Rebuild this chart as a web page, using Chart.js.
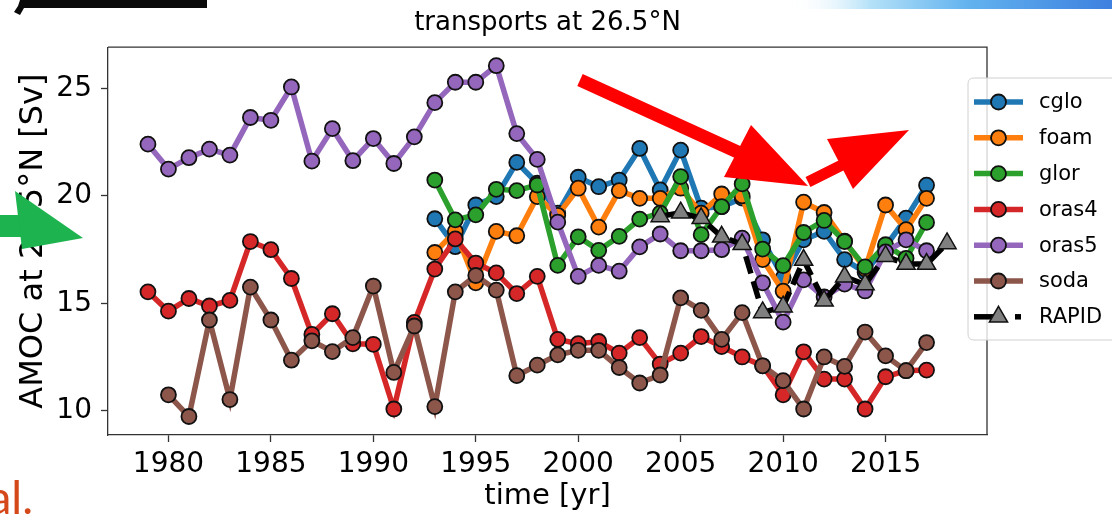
<!DOCTYPE html>
<html>
<head>
<meta charset="utf-8">
<script src="https://cdn.jsdelivr.net/npm/chart.js@4.4.1/dist/chart.umd.min.js"></script>
<style>
  html, body { margin: 0; padding: 0; background: #fff; overflow: hidden; }
  #wrap { position: relative; width: 1112px; height: 521px; }
</style>
</head>
<body>
<div id="wrap"><canvas id="c" width="1112" height="521"></canvas></div>
<script>
// Annual AMOC transports at 26.5°N [Sv], one value per year (null = no data)
const years = [1979, 1980, 1981, 1982, 1983, 1984, 1985, 1986, 1987, 1988,
               1989, 1990, 1991, 1992, 1993, 1994, 1995, 1996, 1997, 1998,
               1999, 2000, 2001, 2002, 2003, 2004, 2005, 2006, 2007, 2008,
               2009, 2010, 2011, 2012, 2013, 2014, 2015, 2016, 2017, 2018];

const cglo = [null, null, null, null, null, null, null, null, null, null,
              null, null, null, null, 18.94, 17.64, 19.58, 19.97, 21.56, 20.59,
              19.20, 20.87, 20.43, 20.74, 22.21, 20.28, 22.13, 19.43, 19.50, 19.90,
              17.96, 16.20, 17.96, 18.35, 17.04, 16.45, 17.65, 18.97, 20.50, null];

const foam = [null, null, null, null, null, null, null, null, null, null,
              null, null, null, null, 17.37, 18.35, 15.96, 18.35, 18.15, 19.97,
              19.10, 20.36, 18.55, 20.25, 19.89, 19.89, 20.36, 19.20, 20.09, 20.00,
              17.04, 15.57, 19.71, 19.23, 17.90, 16.60, 19.58, 18.43, 19.89, null];

const glor = [null, null, null, null, null, null, null, null, null, null,
              null, null, null, null, 20.74, 18.89, 19.12, 20.31, 20.25, 20.51,
              16.77, 18.10, 17.47, 18.12, 18.92, 19.20, 20.90, 18.20, 19.50, 20.56,
              17.53, 16.76, 18.30, 18.86, 17.88, 16.70, 17.73, 17.10, 18.77, null];

const oras4 = [15.54, 14.64, 15.23, 14.88, 15.14, 17.88, 17.50, 16.16, 13.56, 14.52,
               13.12, 13.10, 10.09, 14.12, 16.60, 18.00, 16.88, 16.42, 15.46, 16.26,
               13.33, 13.13, 13.23, 12.69, 13.41, 12.18, 12.69, 13.46, 12.99, 12.51,
               12.10, 10.75, 12.75, 11.48, 11.48, 10.09, 11.59, 11.87, 11.90, null];

const oras5 = [22.41, 21.25, 21.78, 22.18, 21.90, 23.65, 23.52, 25.07, 21.62, 23.13,
               21.64, 22.67, 21.51, 22.75, 24.34, 25.29, 25.29, 26.06, 22.90, 21.70,
               18.78, 16.26, 16.77, 16.50, 17.63, 18.23, 17.45, 17.45, 17.50, 18.04,
               15.96, 14.13, 16.10, 15.30, 15.90, 15.58, 17.40, 17.96, 17.45, null];

const soda = [null, 10.75, 9.74, 14.23, 10.53, 15.76, 14.23, 12.36, 13.26, 12.76,
              13.41, 15.81, 11.79, 13.95, 10.20, 15.54, 16.30, 15.62, 11.64, 12.13,
              12.61, 12.82, 12.82, 12.02, 11.30, 11.67, 15.26, 14.68, 13.33, 14.57,
              12.10, 11.41, 10.09, 12.51, 12.07, 13.67, 12.56, 11.87, 13.18, null];

const rapid = [null, null, null, null, null, null, null, null, null, null,
               null, null, null, null, null, null, null, null, null, null,
               null, null, null, null, null, 19.05, 19.22, 18.96, 18.10, 17.75,
               14.58, 14.85, 17.02, 15.12, 16.24, 15.88, 17.20, 16.83, 16.83, 17.79];

const xTicks = [1980, 1985, 1990, 1995, 2000, 2005, 2010, 2015];
const yTicks = [10, 15, 20, 25];

const seriesNames = ['cglo', 'foam', 'glor', 'oras4', 'oras5', 'soda'];
const seriesValues = [cglo, foam, glor, oras4, oras5, soda];
const seriesColors = ['#1f77b4', '#ff7f0e', '#2ca02c', '#d62728', '#9467bd', '#8c564b'];

const FONT = 'DejaVu Sans';

function toPoints(values) {
  const pts = [];
  years.forEach((yr, i) => { if (values[i] !== null) pts.push({ x: yr, y: values[i] }); });
  return pts;
}

const datasets = seriesNames.map((name, k) => ({
  label: name,
  data: toPoints(seriesValues[k]),
  borderColor: seriesColors[k],
  backgroundColor: seriesColors[k],
  borderWidth: 5.5,
  pointRadius: 7.5,
  pointBorderWidth: 1.8,
  pointBorderColor: '#111',
  pointBackgroundColor: seriesColors[k],
  pointStyle: 'circle',
  tension: 0,
  order: 10 - k
}));

datasets.push({
  label: 'RAPID',
  data: toPoints(rapid),
  borderColor: '#000',
  backgroundColor: '#808080',
  borderWidth: 5.5,
  borderDash: [18, 8],
  pointRadius: 10.5,
  pointBorderWidth: 1.5,
  pointBorderColor: '#111',
  pointBackgroundColor: '#808080',
  pointStyle: 'triangle',
  tension: 0,
  order: 1
});

// top/right spines
const framePlugin = {
  id: 'frame',
  afterDatasetsDraw(chart) {
    const { ctx, chartArea: a } = chart;
    ctx.save();
    ctx.strokeStyle = '#333';
    ctx.lineWidth = 1.3;
    ctx.beginPath();
    ctx.moveTo(a.left, a.top);
    ctx.lineTo(a.right, a.top);
    ctx.lineTo(a.right, a.bottom);
    ctx.stroke();
    ctx.restore();
  }
};

function roundRect(ctx, x, y, w, h, r) {
  ctx.beginPath();
  ctx.moveTo(x + r, y);
  ctx.lineTo(x + w - r, y);
  ctx.quadraticCurveTo(x + w, y, x + w, y + r);
  ctx.lineTo(x + w, y + h - r);
  ctx.quadraticCurveTo(x + w, y + h, x + w - r, y + h);
  ctx.lineTo(x + r, y + h);
  ctx.quadraticCurveTo(x, y + h, x, y + h - r);
  ctx.lineTo(x, y + r);
  ctx.quadraticCurveTo(x, y, x + r, y);
  ctx.closePath();
}

// framed legend at the right edge, built from the datasets
const legendPlugin = {
  id: 'boxLegend',
  afterDraw(chart) {
    const ctx = chart.ctx;
    const bx = 968, by = 78, bw = 152, bh = 262;
    ctx.save();
    roundRect(ctx, bx, by, bw, bh, 6);
    ctx.fillStyle = 'rgba(255,255,255,0.8)';
    ctx.fill();
    ctx.strokeStyle = '#d0d0d0';
    ctx.lineWidth = 1;
    ctx.stroke();

    const x1 = 974, x2 = 1023, xm = 998.5, xt = 1039;
    ctx.font = '21px "' + FONT + '"';
    ctx.textBaseline = 'middle';
    ctx.textAlign = 'left';
    chart.data.datasets.forEach((ds, i) => {
      const y = by + 24 + i * 35.8;
      ctx.strokeStyle = ds.borderColor;
      ctx.lineWidth = 5.5;
      if (ds.borderDash) {
        ctx.beginPath(); ctx.moveTo(x1, y); ctx.lineTo(994, y); ctx.stroke();
        ctx.beginPath(); ctx.moveTo(1015, y); ctx.lineTo(1021, y); ctx.stroke();
      } else {
        ctx.beginPath(); ctx.moveTo(x1, y); ctx.lineTo(x2, y); ctx.stroke();
      }
      ctx.fillStyle = ds.pointBackgroundColor;
      ctx.strokeStyle = '#111';
      ctx.lineWidth = ds.pointBorderWidth;
      ctx.beginPath();
      if (ds.pointStyle === 'triangle') {
        const r = ds.pointRadius;
        ctx.moveTo(xm, y - r);
        ctx.lineTo(xm + r * 0.866, y + r * 0.5);
        ctx.lineTo(xm - r * 0.866, y + r * 0.5);
        ctx.closePath();
      } else {
        ctx.arc(xm, y, ds.pointRadius, 0, Math.PI * 2);
      }
      ctx.fill();
      ctx.stroke();
      ctx.fillStyle = '#000';
      ctx.fillText(ds.label, xt, y + 1);
    });
    ctx.restore();

    drawAnnotations(ctx);
  }
};

function poly(ctx, pts, color) {
  ctx.fillStyle = color;
  ctx.beginPath();
  ctx.moveTo(pts[0][0], pts[0][1]);
  for (let i = 1; i < pts.length; i++) ctx.lineTo(pts[i][0], pts[i][1]);
  ctx.closePath();
  ctx.fill();
}

// slide overlays: banner strips, arrows and a text fragment
function drawAnnotations(ctx) {
  ctx.save();
  const g = ctx.createLinearGradient(790, 0, 1112, 0);
  g.addColorStop(0, 'rgba(255,255,255,0)');
  g.addColorStop(0.25, '#b4e1f8');
  g.addColorStop(0.55, '#63b3ef');
  g.addColorStop(1, '#3d80df');
  ctx.fillStyle = g;
  ctx.fillRect(790, 0, 322, 9);

  poly(ctx, [[20, 0], [207, 0], [207, 8], [24, 8], [20, 15], [14, 12], [18, 6]], '#0a0a0a');

  ctx.strokeStyle = '#ff0000';
  ctx.lineCap = 'butt';
  ctx.lineWidth = 13;
  ctx.beginPath(); ctx.moveTo(580, 80); ctx.lineTo(742, 154); ctx.stroke();
  poly(ctx, [[751, 125], [724, 177], [808, 186]], '#ff0000');
  ctx.lineWidth = 11;
  ctx.beginPath(); ctx.moveTo(808, 182); ctx.lineTo(846, 163); ctx.stroke();
  poly(ctx, [[827, 139], [853, 189], [909, 130]], '#ff0000');

  ctx.strokeStyle = '#1db34f';
  ctx.lineWidth = 22;
  ctx.beginPath(); ctx.moveTo(-5, 226); ctx.lineTo(30, 226); ctx.stroke();
  poly(ctx, [[15, 191], [83, 238], [22, 249]], '#1db34f');

  ctx.fillStyle = '#d4481a';
  ctx.font = '46px Lato';
  ctx.textAlign = 'right';
  ctx.textBaseline = 'alphabetic';
  ctx.fillText('al.', 33, 514);
  ctx.restore();
}

const tickFont = { family: FONT, size: 28 };

new Chart(document.getElementById('c'), {
  type: 'line',
  data: { datasets },
  plugins: [framePlugin, legendPlugin],
  options: {
    responsive: false,
    devicePixelRatio: 1,
    animation: false,
    events: [],
    layout: { padding: { left: 0, right: 125, top: 0, bottom: 0 } },
    plugins: {
      legend: { display: false },
      tooltip: { enabled: false },
      title: {
        display: true,
        fullSize: false,
        text: 'transports at 26.5°N',
        color: '#000',
        font: { family: FONT, size: 26, weight: 'normal' },
        padding: { top: 8, bottom: 8 }
      }
    },
    scales: {
      x: {
        type: 'linear',
        min: 1977.05,
        max: 2019.95,
        afterBuildTicks: s => { s.ticks = xTicks.map(v => ({ value: v })); },
        afterFit: s => { s.height = 86; },
        ticks: {
          font: tickFont, color: '#000', padding: 6,
          maxRotation: 0, autoSkip: false,
          callback: v => String(v)
        },
        grid: { display: true, drawOnChartArea: false, drawTicks: true, tickLength: 7, tickWidth: 1.3, tickColor: '#333' },
        border: { display: true, color: '#333', width: 1.3 },
        title: { display: true, text: 'time [yr]', color: '#000', font: { family: FONT, size: 29 }, padding: { top: 7, bottom: 7 } }
      },
      y: {
        type: 'linear',
        min: 8.88,
        max: 26.92,
        afterBuildTicks: s => { s.ticks = yTicks.map(v => ({ value: v })); },
        afterFit: s => { s.width = 108; },
        ticks: { font: tickFont, color: '#000', padding: 9, callback: v => String(v) },
        grid: { display: true, drawOnChartArea: false, drawTicks: true, tickLength: 7, tickWidth: 1.3, tickColor: '#333' },
        border: { display: true, color: '#333', width: 1.3 },
        title: { display: true, text: 'AMOC at 26.5°N [Sv]', color: '#000', font: { family: FONT, size: 32 }, padding: { top: 14, bottom: 0 } }
      }
    }
  }
});
</script>
</body>
</html>
